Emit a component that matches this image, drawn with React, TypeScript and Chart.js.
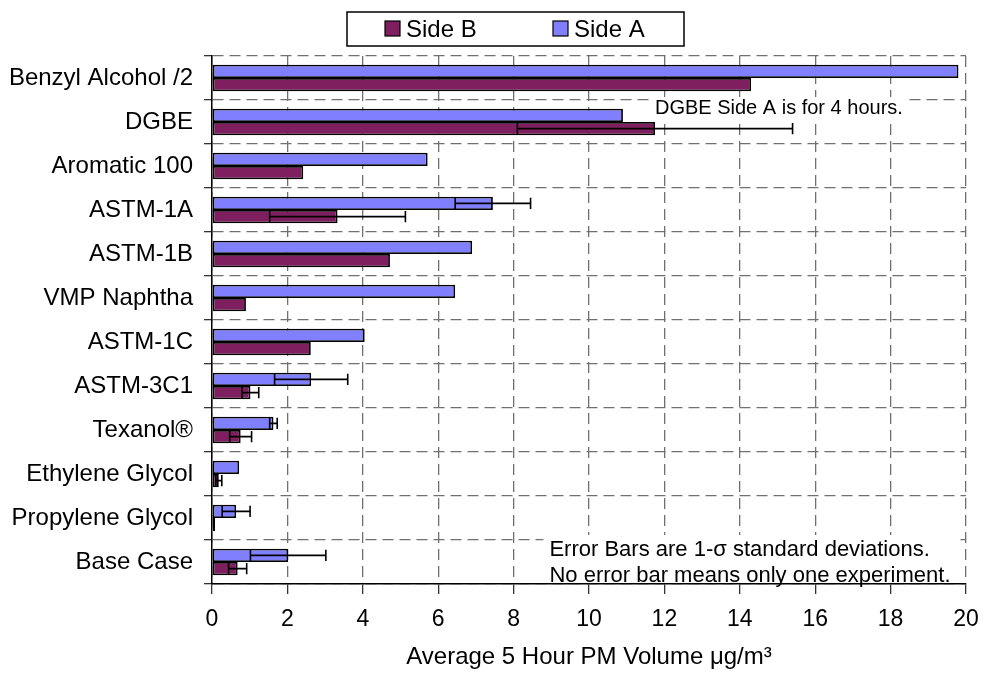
import React, { useEffect, useRef } from "react";
import { Chart, registerables } from "chart.js";

Chart.register(...registerables);

const categories = [
  "Benzyl Alcohol /2",
  "DGBE",
  "Aromatic 100",
  "ASTM-1A",
  "ASTM-1B",
  "VMP Naphtha",
  "ASTM-1C",
  "ASTM-3C1",
  "Texanol®",
  "Ethylene Glycol",
  "Propylene Glycol",
  "Base Case",
];

const sideA = [19.8, 10.9, 5.72, 7.45, 6.9, 6.45, 4.05, 2.63, 1.63, 0.72, 0.64, 2.02];
const sideASd = [null, null, null, 1.0, null, null, null, 0.97, 0.1, null, 0.37, 1.0];
const sideB = [14.3, 11.75, 2.42, 3.33, 4.72, 0.9, 2.62, 1.02, 0.76, 0.18, 0.08, 0.68];
const sideBSd = [null, 3.65, null, 1.8, null, null, null, 0.22, 0.29, 0.08, null, 0.24];

const xTicks = [0, 2, 4, 6, 8, 10, 12, 14, 16, 18, 20];

const BLUE = "#8080FF";
const PLUM = "#7F1F5F";
const FONT = "'Liberation Sans', Arial, sans-serif";

const errorBarPlugin = {
  id: "errorBars",
  afterDatasetsDraw(chart: any) {
    const ctx = chart.ctx;
    const xs = chart.scales.x;
    chart.data.datasets.forEach((ds: any, di: number) => {
      const sds = ds.sd as (number | null)[];
      if (!sds) return;
      const meta = chart.getDatasetMeta(di);
      meta.data.forEach((bar: any, i: number) => {
        const sd = sds[i];
        if (sd == null) return;
        const v = ds.data[i];
        const x1 = xs.getPixelForValue(v - sd);
        const x2 = xs.getPixelForValue(v + sd);
        const y = bar.y;
        const h = bar.height / 2 - 1;
        ctx.save();
        ctx.strokeStyle = "#000";
        ctx.lineWidth = 1.6;
        ctx.beginPath();
        ctx.moveTo(x1, y);
        ctx.lineTo(x2, y);
        ctx.moveTo(x1, y - h);
        ctx.lineTo(x1, y + h);
        ctx.moveTo(x2, y - h);
        ctx.lineTo(x2, y + h);
        ctx.stroke();
        ctx.restore();
      });
    });
  },
};

const notesPlugin = {
  id: "notes",
  beforeDatasetsDraw(chart: any) {
    const ctx = chart.ctx;
    const xs = chart.scales.x;
    const ys = chart.scales.y;
    ctx.save();
    ctx.textBaseline = "middle";
    ctx.textAlign = "left";
    // DGBE note
    ctx.font = `20px ${FONT}`;
    const t1 = "DGBE Side A is for 4 hours.";
    const x1 = xs.getPixelForValue(11.75);
    const y1 = ys.getPixelForValue(1) - 14;
    const w1 = ctx.measureText(t1).width;
    ctx.fillStyle = "#fff";
    ctx.fillRect(x1 - 4, y1 - 11, w1 + 8, 22);
    ctx.fillStyle = "#000";
    ctx.fillText(t1, x1, y1);
    // Error bar notes
    ctx.font = `22px ${FONT}`;
    const l1 = "Error Bars are 1-σ standard deviations.";
    const l2 = "No error bar means only one experiment.";
    const x2 = xs.getPixelForValue(8.95);
    const yc = ys.getPixelForValue(11);
    const w2 = Math.max(ctx.measureText(l1).width, ctx.measureText(l2).width);
    ctx.fillStyle = "#fff";
    ctx.fillRect(x2 - 6, yc - 27, w2 + 12, 44);
    ctx.fillStyle = "#000";
    ctx.fillText(l1, x2, yc - 12);
    ctx.fillText(l2, x2, yc + 14);
    ctx.restore();
  },
};

const legendPlugin = {
  id: "boxLegend",
  afterDraw(chart: any) {
    const ctx = chart.ctx;
    const items = [...chart.data.datasets].reverse();
    const left = 339;
    const top = 4;
    const w = 337;
    const h = 34;
    ctx.save();
    ctx.fillStyle = "#fff";
    ctx.fillRect(left, top, w, h);
    ctx.strokeStyle = "#000";
    ctx.lineWidth = 1.5;
    ctx.strokeRect(left, top, w, h);
    ctx.font = `24px ${FONT}`;
    ctx.textBaseline = "middle";
    ctx.textAlign = "left";
    const starts = [left + 38, left + 206];
    items.forEach((ds: any, i: number) => {
      const sx = starts[i];
      ctx.fillStyle = ds.backgroundColor;
      ctx.fillRect(sx, top + 9, 15, 15);
      ctx.strokeStyle = "#000";
      ctx.lineWidth = 1.2;
      ctx.strokeRect(sx, top + 9, 15, 15);
      ctx.fillStyle = "#000";
      ctx.fillText(ds.label, sx + 21, top + h / 2 + 1);
    });
    ctx.restore();
  },
};

export default function App() {
  const ref = useRef<HTMLCanvasElement>(null);
  useEffect(() => {
    if (!ref.current) return;
    Chart.defaults.font.family = FONT;
    Chart.defaults.color = "#000";
    const chart = new Chart(ref.current, {
      type: "bar",
      data: {
        labels: categories,
        datasets: [
          {
            label: "Side A",
            data: sideA,
            sd: sideASd,
            backgroundColor: BLUE,
            borderColor: "#000",
            borderWidth: 1.8,
            borderSkipped: false,
            barPercentage: 1,
            categoryPercentage: 0.6,
          } as any,
          {
            label: "Side B",
            data: sideB,
            sd: sideBSd,
            backgroundColor: PLUM,
            borderColor: "#000",
            borderWidth: 1.8,
            borderSkipped: false,
            barPercentage: 1,
            categoryPercentage: 0.6,
          } as any,
        ],
      },
      options: {
        indexAxis: "y",
        animation: false,
        responsive: true,
        maintainAspectRatio: false,
        layout: { padding: { top: 48, left: 0, right: 0, bottom: 0 } },
        plugins: {
          legend: { display: false },
          tooltip: { enabled: false },
        },
        scales: {
          x: {
            type: "linear",
            min: 0,
            max: 20,
            afterBuildTicks: (scale: any) => {
              scale.ticks = xTicks.map((v) => ({ value: v }));
            },
            afterFit: (scale: any) => {
              scale.height = 91;
              scale.paddingRight = 12;
            },
            ticks: {
              font: { size: 23 },
              color: "#000",
              padding: 12,
            },
            grid: {
              color: "#707070",
              lineWidth: 1.3,
              tickLength: 10,
              tickColor: "#333",
              tickWidth: 1.3,
            },
            border: { display: true, color: "#000", width: 1.5, dash: [11, 6] },
            title: {
              display: true,
              text: "Average 5 Hour PM Volume μg/m³",
              font: { size: 24 },
              color: "#000",
              padding: { top: 0, bottom: 3 },
            },
          },
          y: {
            type: "category",
            afterFit: (scale: any) => {
              scale.width = 204;
            },
            ticks: {
              font: { size: 24 },
              color: "#000",
              padding: 11,
            },
            grid: {
              offset: true,
              color: "#707070",
              lineWidth: 1.3,
              tickLength: 8,
              tickColor: "#333",
              tickWidth: 1.3,
            },
            border: { display: true, color: "#000", width: 1.5, dash: [11, 6] },
          },
        },
      },
      plugins: [notesPlugin, errorBarPlugin, legendPlugin],
    });
    return () => chart.destroy();
  }, []);
  return (
    <div style={{ width: 970, height: 667, position: "relative" }}>
      <canvas ref={ref} />
    </div>
  );
}
